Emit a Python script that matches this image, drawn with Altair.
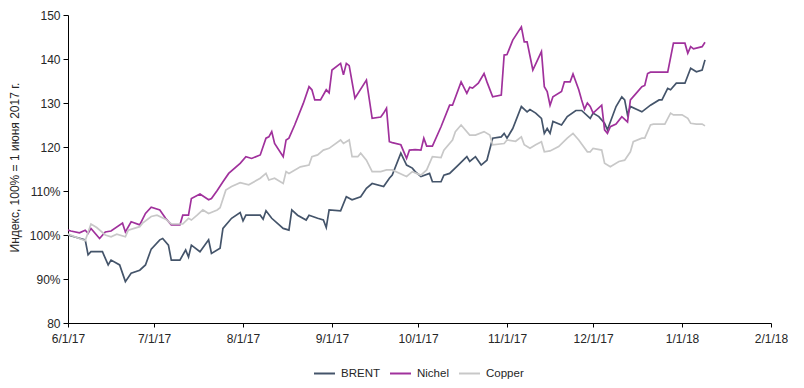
import altair as alt
import pandas as pd

series_names = ["BRENT", "Nichel", "Copper"]
series_colors = ["#44546A", "#A0319C", "#C8C8C8"]

# day offsets from 1 June 2017, values in % of 1 June 2017
brent_days = [0, 6, 7, 8, 12, 14, 15, 18, 20, 22, 25, 27, 29, 32, 33, 35, 36, 39, 41, 42, 43, 46, 49, 50,
              53, 54, 57, 60, 61, 62, 67, 68, 69, 71, 75, 77, 78, 80, 83, 84, 87, 89, 90, 91, 95, 97, 99,
              102, 104, 106, 110, 112, 113, 116, 118, 120, 121, 123, 126, 127, 130, 131, 133, 136, 139,
              140, 142, 144, 146, 148, 151, 152, 153, 155, 158, 160, 161, 163, 165, 166, 167, 168, 169,
              172, 174, 177, 179, 182, 183, 185, 187, 188, 191, 193, 194, 195, 196, 200, 203, 206, 207,
              209, 210, 212, 215, 217, 218, 219, 221, 222]
brent_vals = [100.0, 98.9, 95.5, 96.2, 96.2, 93.2, 94.3, 93.2, 89.4, 91.3, 92.0, 93.2, 96.8, 98.9, 99.2,
              97.7, 94.3, 94.3, 96.6, 95.0, 97.7, 96.2, 98.9, 95.8, 97.0, 101.5, 103.8, 105.1, 103.2,
              104.5, 104.5, 103.6, 105.5, 103.8, 101.5, 101.1, 105.7, 104.5, 103.4, 104.5, 103.8, 103.4,
              101.7, 105.7, 105.5, 108.7, 108.0, 108.7, 110.6, 111.7, 111.0, 112.9, 113.6, 118.6, 115.9,
              115.2, 114.4, 113.3, 114.0, 112.1, 112.1, 113.6, 114.0, 115.9, 117.8, 116.7, 117.8, 115.9,
              117.0, 122.0, 122.3, 123.1, 122.0, 124.2, 129.2, 128.0, 128.5, 127.7, 126.5, 123.1, 124.2,
              123.1, 125.8, 125.0, 126.9, 128.3, 128.3, 126.5, 127.7, 126.9, 125.4, 123.9, 129.2, 131.4,
              130.7, 127.3, 129.2, 128.0, 129.5, 130.7, 130.7, 133.3, 133.0, 134.5, 134.5, 137.9, 137.5,
              137.1, 137.5, 139.8]

nichel_days = [0, 1, 4, 6, 7, 8, 11, 13, 15, 19, 20, 22, 25, 27, 29, 32, 34, 36, 39, 40, 42, 43, 46, 49,
               50, 52, 54, 56, 60, 62, 64, 67, 69, 70, 71, 72, 75, 76, 77, 79, 82, 84, 85, 86, 88, 90, 91,
               92, 95, 96, 97, 98, 100, 104, 106, 109, 110, 111, 112, 113, 116, 118, 119, 121, 123, 124,
               125, 127, 130, 133, 134, 137, 139, 140, 141, 143, 145, 146, 148, 151, 152, 153, 155, 158,
               159, 160, 162, 165, 166, 167, 168, 169, 172, 173, 175, 176, 178, 179, 180, 181, 182, 183,
               186, 187, 188, 189, 191, 193, 195, 196, 198, 200, 201, 202, 203, 209, 211, 215, 216, 217,
               218, 221, 222]
nichel_vals = [101.1, 100.9, 100.5, 101.1, 100.4, 101.5, 99.2, 100.7, 100.9, 102.7, 100.7, 103.0, 102.3,
               104.9, 106.3, 105.7, 103.8, 102.3, 102.3, 104.5, 104.5, 108.3, 109.3, 108.0, 108.3, 110.1,
               112.1, 114.0, 116.3, 117.8, 117.4, 118.2, 122.0, 122.3, 123.5, 120.8, 117.8, 121.6, 122.0,
               125.0, 129.9, 133.7, 133.0, 130.7, 130.7, 133.0, 132.3, 137.5, 139.0, 136.4, 139.0, 138.5,
               131.1, 135.2, 126.5, 126.8, 127.7, 128.8, 121.2, 121.0, 120.5, 117.4, 119.3, 119.4, 119.3,
               122.0, 120.2, 120.2, 124.6, 129.5, 129.5, 134.8, 132.2, 133.6, 133.4, 134.5, 136.7, 134.8,
               131.4, 131.8, 140.9, 141.0, 144.3, 147.3, 143.9, 143.9, 137.5, 141.7, 133.7, 132.6, 129.5,
               131.4, 132.6, 134.8, 134.8, 136.6, 133.0, 130.7, 128.6, 130.0, 129.2, 127.7, 129.5, 123.9,
               123.1, 124.6, 125.2, 126.9, 125.7, 130.7, 132.2, 133.7, 134.0, 136.7, 137.0, 137.0, 143.6,
               143.6, 141.3, 142.8, 142.3, 142.8, 143.8]

copper_days = [0, 6, 8, 10, 13, 15, 17, 20, 21, 25, 26, 29, 31, 34, 36, 40, 42, 43, 45, 47, 49, 52, 53,
               55, 57, 60, 63, 67, 69, 70, 72, 75, 76, 77, 81, 84, 85, 87, 89, 91, 95, 96, 98, 99, 101,
               102, 104, 106, 109, 111, 113, 117, 118, 120, 123, 125, 127, 130, 131, 134, 135, 137, 140,
               142, 145, 147, 148, 152, 153, 156, 158, 159, 161, 163, 165, 166, 168, 171, 174, 176, 178,
               181, 182, 183, 186, 187, 189, 192, 194, 196, 197, 200, 201, 203, 204, 208, 210, 211, 214,
               216, 217, 219, 221, 222]
copper_vals = [100.2, 98.7, 102.5, 101.7, 100.0, 99.6, 100.2, 99.6, 101.1, 101.9, 102.7, 104.2, 104.5,
               103.6, 102.5, 102.5, 103.8, 103.4, 104.5, 105.7, 104.9, 105.7, 106.2, 110.2, 111.0, 111.9,
               111.4, 112.9, 114.0, 112.5, 112.9, 111.7, 114.4, 114.0, 115.5, 115.9, 117.8, 118.2, 119.3,
               119.7, 121.6, 120.8, 121.6, 117.8, 117.8, 118.6, 117.0, 114.4, 114.4, 114.8, 114.8, 113.6,
               113.3, 114.4, 113.6, 114.8, 117.8, 117.6, 119.3, 121.6, 123.5, 125.0, 122.7, 122.7, 123.5,
               122.7, 120.5, 120.8, 121.6, 121.3, 122.3, 120.5, 119.7, 120.5, 121.2, 118.9, 119.1, 120.1,
               122.0, 123.1, 121.6, 118.9, 118.9, 119.7, 119.3, 116.3, 115.5, 116.7, 117.0, 118.9, 121.2,
               122.0, 122.0, 125.0, 125.2, 125.2, 127.7, 127.3, 127.3, 126.5, 125.4, 125.2, 125.2, 124.8]

y_ticks = [80, 90, 100, 110, 120, 130, 140, 150]

start = pd.Timestamp("2017-06-01")
rows = []
for name, days, vals in [("BRENT", brent_days, brent_vals),
                         ("Nichel", nichel_days, nichel_vals),
                         ("Copper", copper_days, copper_vals)]:
    for d, v in zip(days, vals):
        rows.append({"date": (start + pd.Timedelta(days=d)).strftime("%Y-%m-%d"),
                     "series": name, "value": v})
df = pd.DataFrame(rows)

month_ticks = [alt.DateTime(year=y, month=m, date=1, utc=True)
               for y, m in [(2017, 6), (2017, 7), (2017, 8), (2017, 9), (2017, 10),
                            (2017, 11), (2017, 12), (2018, 1), (2018, 2)]]

FONT = "Liberation Sans"

chart = alt.Chart(df).mark_line(strokeWidth=1.7).encode(
    x=alt.X("date:T",
            scale=alt.Scale(type="utc", domain=[month_ticks[0], month_ticks[-1]]),
            axis=alt.Axis(values=month_ticks, format="%-m/%-d/%y", title=None, grid=False,
                          labelPadding=6, tickSize=4, labelFlush=False)),
    y=alt.Y("value:Q",
            scale=alt.Scale(domain=[80, 150], nice=False, zero=False),
            axis=alt.Axis(values=y_ticks, grid=False, tickSize=5, labelPadding=3,
                          labelExpr="datum.value >= 90 && datum.value <= 110 ? datum.value + '%' : datum.value",
                          title="Индекс, 100% = 1 июня 2017 г.", titleX=-54, titleY=152,
                          titleBaseline="middle", titleFontWeight="normal", titleFontSize=12)),
    color=alt.Color("series:N",
                    scale=alt.Scale(domain=series_names, range=series_colors),
                    sort=series_names,
                    legend=alt.Legend(title=None, orient="none", direction="horizontal",
                                      legendX=245, legendY=347, symbolType="stroke",
                                      symbolSize=441, symbolStrokeWidth=2, labelFontSize=11.5,
                                      labelOffset=5, columnPadding=6, labelFont=FONT,
                                      labelColor="#262626")),
).properties(
    width=703, height=308,
    autosize=alt.AutoSizeParams(type="none"),
    padding={"left": 60, "top": 7, "right": 17, "bottom": 57},
).configure_view(stroke=None).configure_axis(
    domainColor="#000000", tickColor="#000000", labelColor="#262626",
    labelFont=FONT, labelFontSize=12, titleFont=FONT, titleColor="#262626",
    domainWidth=1, tickWidth=1,
)

chart.save("out.html", embed_options={"renderer": "svg", "actions": False})
